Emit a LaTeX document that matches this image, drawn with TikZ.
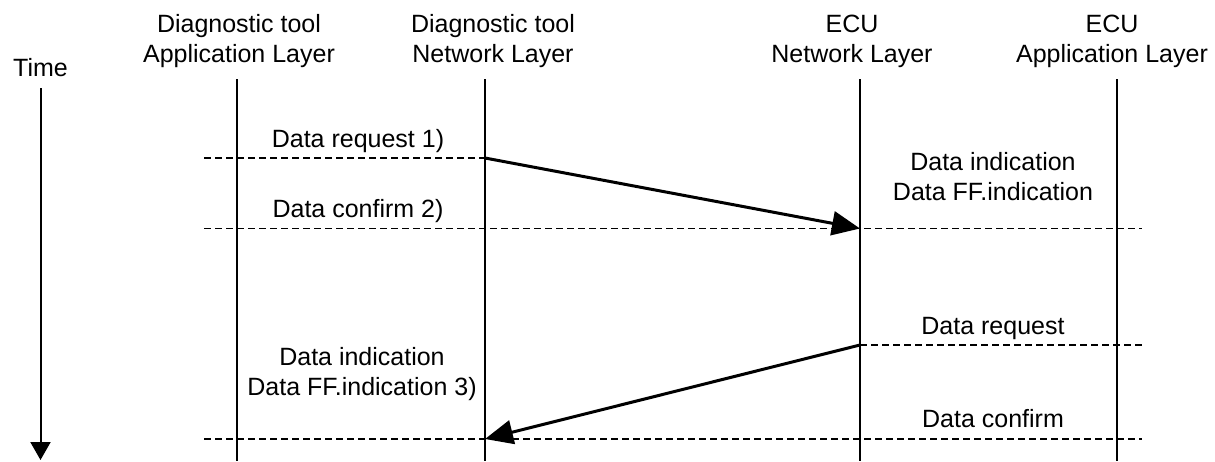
\documentclass[tikz,border=0pt]{standalone}
\usepackage{fontspec}
\setmainfont{Liberation Sans}
\usetikzlibrary{arrows.meta}
\begin{document}
\begin{tikzpicture}[x=1pt,y=-1pt,
  lbl/.style={font=\fontsize{25}{29.5}\selectfont, inner sep=0pt, anchor=base, align=center},
  life/.style={line width=2pt},
  dashline/.style={line width=1.9pt, dash pattern=on 7pt off 4pt},
  msg/.style={line width=3pt, -{Triangle[length=28pt,width=24pt]}},
  timearrow/.style={line width=2pt, -{Triangle[length=18pt,width=20pt]}}]
\useasboundingbox (0,0) rectangle (1215,461);

% headers (anchor base = baseline of last line)
\node[lbl] (hA) at (239,62) {Diagnostic tool\\Application Layer};
\node[lbl] (hB) at (493,62) {Diagnostic tool\\Network Layer};
\node[lbl] (hC) at (852,62) {ECU\\Network Layer};
\node[lbl] (hD) at (1112,62) {ECU\\Application Layer};
\node[lbl, anchor=base west] (time) at (13,76) {Time};

% lifelines
\coordinate (At) at (237,79);  \coordinate (Ab) at (237,461);
\coordinate (Bt) at (485,79);  \coordinate (Bb) at (485,461);
\coordinate (Ct) at (860,79);  \coordinate (Cb) at (860,461);
\coordinate (Dt) at (1117,79); \coordinate (Db) at (1117,461);
\draw[life] (At) -- (Ab);
\draw[life] (Bt) -- (Bb);
\draw[life] (Ct) -- (Cb);
\draw[life] (Dt) -- (Db);

% time arrow
\coordinate (Tt) at (40.5,88);
\coordinate (Tb) at (40.5,460);
\draw[timearrow] (Tt) -- (Tb);

% dashed levels
\coordinate (L1) at (204,158);   \coordinate (B1) at (485,158);
\coordinate (L2) at (204,228.5); \coordinate (C2) at (860,228.5); \coordinate (R2) at (1142,228.5);
\coordinate (C3) at (860,345);   \coordinate (R3) at (1142,345);
\coordinate (L4) at (204,439);   \coordinate (B4) at (485,439); \coordinate (R4) at (1142,439);
\draw[dashline] (L1) -- (B1);
\draw[dashline] (L2) -- (R2);
\draw[dashline] (C3) -- (R3);
\draw[dashline] (L4) -- (R4);

% messages
\draw[msg] (B1) -- (C2);
\draw[msg] (C3) -- (B4);

% labels
\node[lbl] (l1) at (358,147) {Data request 1)};
\node[lbl] (l2) at (358,217) {Data confirm 2)};
\node[lbl] (l3) at (993,200) {Data indication\\Data FF.indication};
\node[lbl] (l4) at (993,334) {Data request};
\node[lbl] (l5) at (993,427) {Data confirm};
\node[lbl] (l6) at (362,395) {Data indication\\Data FF.indication 3)};
\end{tikzpicture}
\end{document}
